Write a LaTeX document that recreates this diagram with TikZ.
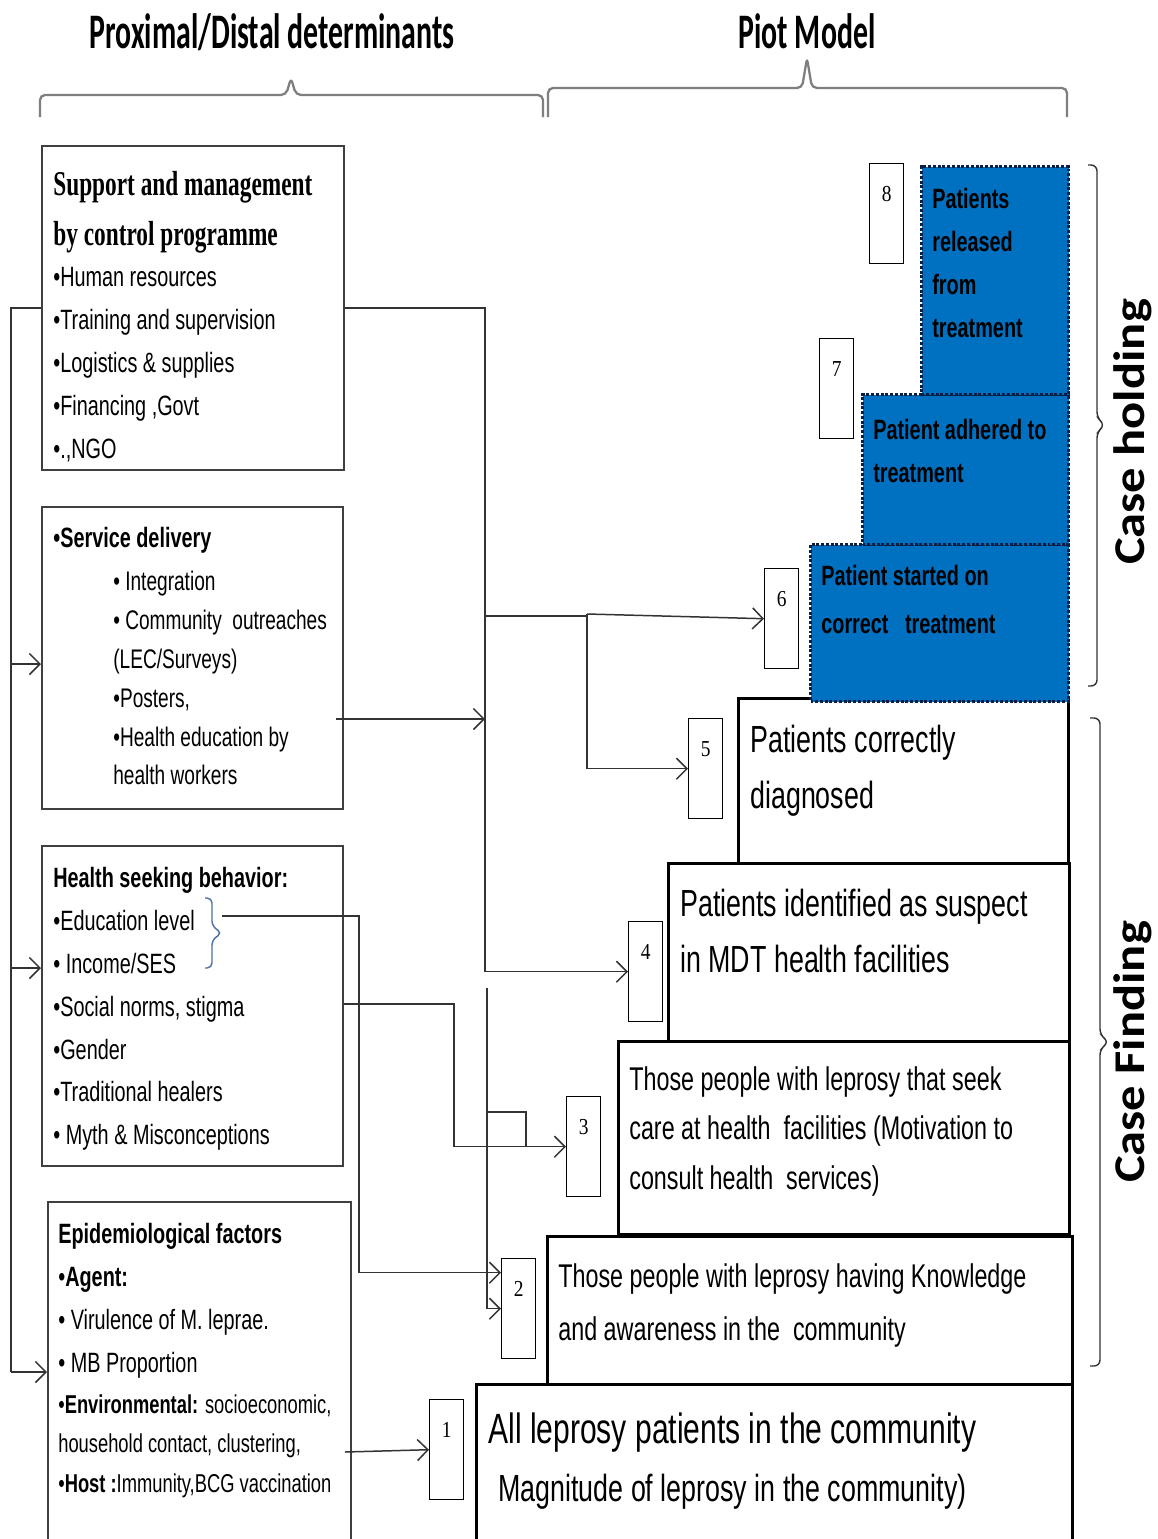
\documentclass[tikz,border=0pt]{standalone}
\usepackage{fontspec}
\setmainfont{Liberation Sans}
\newfontfamily\bodyfont[FakeStretch=0.71]{Liberation Sans}
\newfontfamily\titlefont[FakeStretch=0.67]{Liberation Serif}
\newfontfamily\numfont[FakeStretch=0.85]{Liberation Serif}
\newfontfamily\headfont[FakeStretch=0.6]{Carlito}
\newfontfamily\sidefont[FakeStretch=1.15]{Carlito}
\usetikzlibrary{positioning, calc, arrows.meta}
\newlength{\pu}
\setlength{\pu}{0.02cm}
\definecolor{pioblue}{HTML}{0070C0}
\definecolor{dotnavy}{HTML}{0A1E46}
\definecolor{bracegrey}{HTML}{7F7F7F}
\definecolor{bracesteel}{HTML}{4A6FA5}

\begin{document}
\begin{tikzpicture}[x=0.02cm, y=-0.02cm,
    detbox/.style={draw=black!75, line width=0.9pt, anchor=north west, inner sep=0},
    bluestep/.style={fill=pioblue, draw=dotnavy, line width=1.7pt, densely dotted, anchor=north west, inner sep=0},
    whitestep/.style={fill=white, draw=black, line width=1.8pt, anchor=north west, inner sep=0},
    numbox/.style={draw=black, line width=0.8pt, fill=white, anchor=north west, inner sep=0,
        minimum width=34\pu, minimum height=100\pu,
        font=\numfont\fontsize{13}{13}\selectfont, text height=16\pu, text depth=40\pu},
    serifhead/.style={font=\titlefont\bfseries\fontsize{19.8}{28.3}\selectfont, align=left, inner sep=0},
    body/.style={font=\bodyfont\fontsize{15.9}{24.4}\selectfont, align=left, inner sep=0},
    bodybold/.style={font=\bodyfont\bfseries\fontsize{15.9}{24.4}\selectfont, align=left, inner sep=0},
    bodysmall/.style={font=\bodyfont\fontsize{15.3}{22.1}\selectfont, align=left, inner sep=0},
    bodytiny/.style={font=\bodyfont\fontsize{14.7}{22.7}\selectfont, align=left, inner sep=0},
    bigtext/.style={font=\bodyfont\fontsize{21.5}{31.7}\selectfont, align=left, inner sep=0},
    midtext/.style={font=\bodyfont\fontsize{18.7}{28.3}\selectfont, align=left, inner sep=0},
    hugetext/.style={font=\bodyfont\fontsize{24.1}{31.7}\selectfont, align=left, inner sep=0},
    header/.style={font=\headfont\bfseries\fontsize{28.3}{28.3}\selectfont, inner sep=0},
    sidelabel/.style={font=\sidefont\bfseries\fontsize{25}{25}\selectfont, rotate=90, inner sep=0},
    topbrace/.style={draw=bracegrey, line width=1.3pt, rounded corners=5\pu},
    sidebrace/.style={draw=black!80, line width=0.8pt, rounded corners=6\pu},
    conn/.style={draw=black!80, line width=0.85pt},
    arr/.style={conn, -{Straight Barb[length=6pt,width=12pt]}}
]
    \useasboundingbox (0,0) rectangle (1158,1539);
    \fill[white] (0,0) rectangle (1158,1539);

    % Headers and braces
    \node[header, anchor=base] (proxhead) at (272,48) {Proximal/Distal determinants};
    \node[header, anchor=base] (piothead) at (807,48) {Piot Model};
    \draw[topbrace] (40,117) -- (40,95) -- (286,95) -- (291,78) -- (296,95) -- (543,95) -- (543,117);
    \draw[topbrace] (548,117) -- (548,88) -- (802,88) -- (807,58) -- (812,88) -- (1067,88) -- (1067,117);

    % Determinant boxes
    \node[detbox, minimum width=302\pu, minimum height=324\pu] (supp) at (41,145) {};
    \node[serifhead, below right=26\pu and 12\pu of supp.north west] (suppT) {Support and management\\by control programme};
    \node[body, below right=122\pu and 12\pu of supp.north west] (suppL) {•Human resources\\•Training and supervision\\•Logistics \& supplies\\•Financing ,Govt\\•.,NGO};

    \node[detbox, minimum width=301\pu, minimum height=302\pu] (serv) at (41,506) {};
    \node[bodybold, below right=21\pu and 12\pu of serv.north west] (servT) {•Service delivery};
    \node[bodysmall, below right=65\pu and 72\pu of serv.north west] (servL) {• Integration\\• Community\ \ outreaches\\(LEC/Surveys)\\•Posters,\\•Health education by\\health workers};

    \node[detbox, minimum width=301\pu, minimum height=320\pu] (seek) at (41,845) {};
    \node[body, below right=22\pu and 12\pu of seek.north west] (seekL) {\textbf{Health seeking behavior:}\\•Education level\\• Income/SES\\•Social norms, stigma\\•Gender\\•Traditional healers\\• Myth \& Misconceptions};
    \draw[sidebrace, draw=bracesteel, rounded corners=5\pu] (205,898) -- (212,898) -- (212,926) -- (222,933) -- (212,940) -- (212,968) -- (205,968);

    \node[detbox, minimum width=303\pu, minimum height=360\pu] (epid) at (47,1201) {};
    \node[body, below right=22\pu and 11\pu of epid.north west] (epidT) {\textbf{Epidemiological factors}\\•\textbf{Agent:}\\• Virulence of M. leprae.\\• MB Proportion};
    \node[bodytiny, below right=193\pu and 11\pu of epid.north west] (epidL) {•\textbf{Environmental:} socioeconomic,\\household contact, clustering,\\•\textbf{Host :}Immunity,BCG vaccination};

    % Piot model steps
    \node[whitestep, minimum width=596\pu, minimum height=177\pu] (s1) at (475,1383) {};
    \node[whitestep, minimum width=525\pu, minimum height=148\pu] (s2) at (546,1235) {};
    \node[whitestep, minimum width=451\pu, minimum height=193\pu] (s3) at (617,1040) {};
    \node[whitestep, minimum width=401\pu, minimum height=178\pu] (s4) at (667,862) {};
    \node[whitestep, minimum width=330\pu, minimum height=165\pu] (s5) at (737,697) {};
    \node[bluestep, minimum width=258\pu, minimum height=157\pu] (s6) at (809,543) {};
    \node[bluestep, minimum width=206\pu, minimum height=150\pu] (s7) at (861,393) {};
    \node[bluestep, minimum width=147\pu, minimum height=228\pu] (s8) at (920,165) {};

    \node[bodybold, below right=23\pu and 12\pu of s8.north west] (s8t) {Patients\\released\\from\\treatment};
    \node[bodybold, below right=26\pu and 12\pu of s7.north west] (s7t) {Patient adhered to\\treatment};
    \node[bodybold, below right=22\pu and 12\pu of s6.north west] (s6t) {Patient started on\\[3pt]correct\ \ \ treatment};
    \node[bigtext, below right=28\pu and 13\pu of s5.north west] (s5t) {Patients correctly\\diagnosed};
    \node[bigtext, below right=27\pu and 13\pu of s4.north west] (s4t) {Patients identified as suspect\\in MDT health facilities};
    \node[midtext, below right=26\pu and 12\pu of s3.north west] (s3t) {Those people with leprosy that seek\\care at health\ \ facilities (Motivation to\\consult health\ \ services)};
    \node[midtext, below right=28\pu and 12\pu of s2.north west] (s2t) {Those people with leprosy having Knowledge\\[2.3pt]and awareness in the\ \ community};
    \node[hugetext, below right=29\pu and 13\pu of s1.north west] (s1t) {All leprosy patients in the community};
    \node[bigtext, below right=91\pu and 23\pu of s1.north west] (s1m) {Magnitude of leprosy in the community)};

    % Number boxes
    \foreach \n/\x/\y in {1/429/1399, 2/501/1258, 3/566/1096, 4/628/921, 5/688/718, 6/764/568, 7/819/338, 8/869/163}
      \node[numbox] (n\n) at (\x,\y) {\n};

    % Case braces
    \draw[sidebrace] (1088,165) -- (1097,165) -- (1097,418) -- (1105,425) -- (1097,432) -- (1097,686) -- (1088,686);
    \draw[sidebrace] (1090,718) -- (1100,718) -- (1100,1035) -- (1109,1042) -- (1100,1049) -- (1100,1366) -- (1090,1366);
    \node[sidelabel] (holdlab) at (1133,432) {Case holding};
    \node[sidelabel] (findlab) at (1133,1052) {Case Finding};

    % Left trunk
    \coordinate (lA) at (11,308);
    \coordinate (lB) at (11,664);
    \coordinate (lC) at (11,968);
    \coordinate (lD) at (11,1372);
    \draw[conn] (supp.west |- lA) -- (lA) -- (lD);
    \draw[arr] (lB) -- (serv.west |- lB);
    \draw[arr] (lC) -- (seek.west |- lC);
    \draw[arr] (lD) -- (epid.west |- lD);

    % Right bus
    \coordinate (bA) at (485,308);
    \coordinate (bB) at (485,616);
    \coordinate (fork) at (587,614);
    \coordinate (bC) at (485,719);
    \draw[arr] (supp.east |- bA) -- (bA) |- (n4.west);
    \draw[conn] (bB) -- (fork |- bB);
    \draw[arr] (fork) -- (n6.west);
    \draw[arr] (fork) |- (n5.west);
    \draw[arr] ($(serv.east |- bC)+(-8,0)$) -- (bC);

    % Health seeking links
    \coordinate (educ) at (222,916);
    \coordinate (eduturn) at (359,916);
    \draw[arr] (educ) -- (eduturn) |- ($(n2.west)+(0,-36)$);
    \coordinate (socturn) at (454,1004);
    \draw[arr] (seek.east |- socturn) -- (socturn) |- (n3.west);
    \coordinate (bD) at (487,988);
    \coordinate (bE) at (487,1112);
    \coordinate (kink) at (526,1112);
    \draw[arr] (bD) |- (n2.west);
    \draw[conn] (bE) -- (kink) -- (kink |- n3.west);

    % Epidemiological link
    \coordinate (epout) at (345,1452);
    \draw[arr] (epout) -- (n1.west);
\end{tikzpicture}
\end{document}
